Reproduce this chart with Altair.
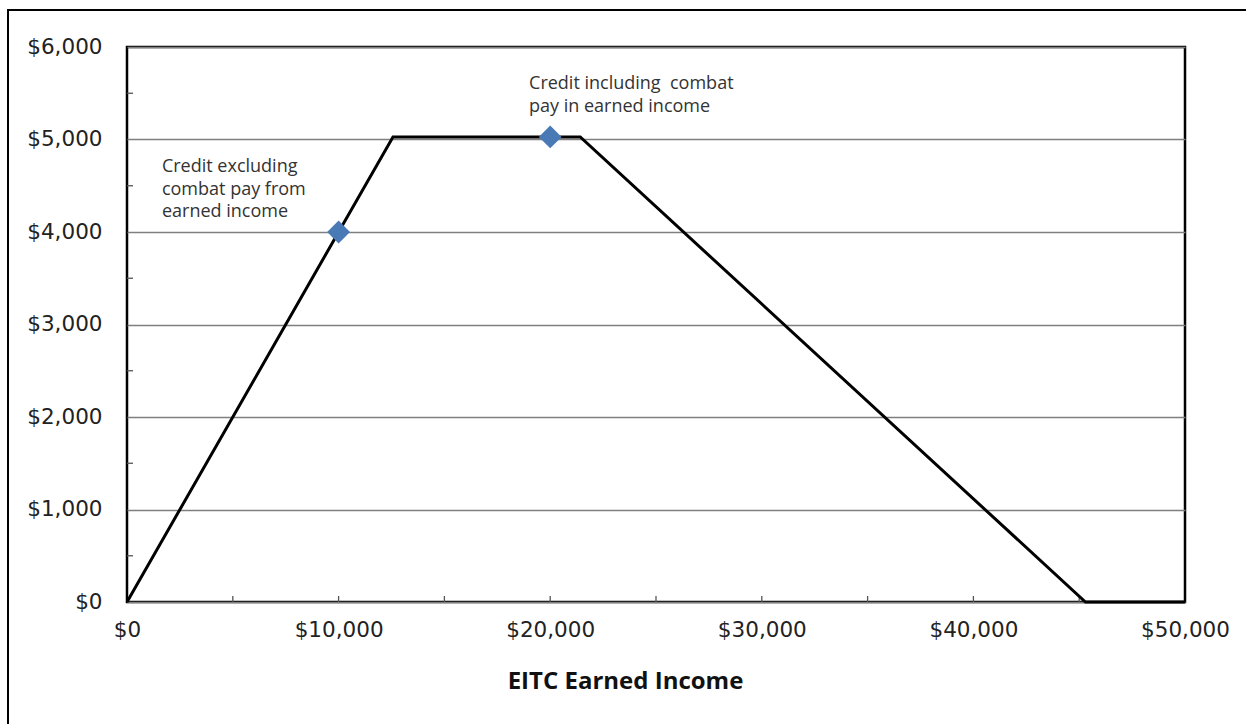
import altair as alt
import pandas as pd

# EITC schedule (earned income, credit)
income = [0, 12570, 21420, 45295, 50000]
credit = [0, 5028, 5028, 0, 0]

# highlighted points
pt_income = [10000, 20000]
pt_credit = [4000, 5028]

# annotations
ann_x = [1650, 19000]
ann_y = [4700, 5600]
ann_text = [["Credit excluding", "combat pay from", "earned income"],
            ["Credit including\u00a0 combat", "pay in earned income"]]

y_ticks = [0, 1000, 2000, 3000, 4000, 5000, 6000]
x_ticks = [0, 10000, 20000, 30000, 40000, 50000]
y_minor = [500, 1500, 2500, 3500, 4500, 5500]
x_minor = [5000, 10000, 15000, 20000, 25000, 30000, 35000, 40000, 45000]

W, H = 1058, 555

line_df = pd.DataFrame({"income": income, "credit": credit})
pt_df = pd.DataFrame({"income": pt_income, "credit": pt_credit})
ann_df = pd.DataFrame({"income": ann_x, "credit": ann_y, "text": ann_text})
ymin_df = pd.DataFrame({"credit": y_minor})
xmin_df = pd.DataFrame({"income": x_minor})

xscale = alt.Scale(domain=[0, 50000], nice=False)
yscale = alt.Scale(domain=[0, 6000], nice=False)

xaxis = alt.Axis(values=x_ticks, format="$,.0f", title="EITC Earned Income",
                 grid=False, ticks=False, domain=False, labelFont="DejaVu Sans",
                 labelFontSize=21.5, labelColor="#222", labelPadding=17,
                 titleFont="Open Sans", titleFontSize=24, titleFontWeight="bold",
                 titleColor="#111", titlePadding=29, titleX=498, labelFlush=False)
yaxis = alt.Axis(values=y_ticks, format="$,.0f", title=None, grid=True,
                 gridColor="#7f7f7f", gridWidth=1.3, ticks=False, domain=False,
                 labelFont="DejaVu Sans", labelFontSize=21.5, labelColor="#222",
                 labelPadding=25)

base = alt.Chart(line_df)

line = base.mark_line(color="black", strokeWidth=3).encode(
    x=alt.X("income:Q", scale=xscale, axis=xaxis),
    y=alt.Y("credit:Q", scale=yscale, axis=yaxis),
)

points = alt.Chart(pt_df).mark_point(shape="diamond", filled=True, size=520,
                                      color="#4a7ab5", opacity=1).encode(
    x=alt.X("income:Q", scale=xscale),
    y=alt.Y("credit:Q", scale=yscale),
)

ann = alt.Chart(ann_df).mark_text(align="left", baseline="middle", font="Open Sans",
                                  fontSize=18, color="#333", lineHeight=22.5).encode(
    x=alt.X("income:Q", scale=xscale),
    y=alt.Y("credit:Q", scale=yscale),
    text="text",
)

yminor = alt.Chart(ymin_df).mark_rule(color="#555", strokeWidth=1.3).encode(
    y=alt.Y("credit:Q", scale=yscale),
    x=alt.value(0), x2=alt.value(6),
)

xminor = alt.Chart(xmin_df).mark_rule(color="#555", strokeWidth=1.3).encode(
    x=alt.X("income:Q", scale=xscale),
    y=alt.value(H), y2=alt.value(H - 6),
)

border = alt.Chart(pd.DataFrame({"d": [0]})).mark_rect(
    fill=None, stroke="black", strokeWidth=2).encode(
    x=alt.value(-119), x2=alt.value(1135), y=alt.value(-37), y2=alt.value(700),
)

chart = alt.layer(border, yminor, xminor, line, points, ann).properties(
    width=W, height=H,
    autosize=alt.AutoSizeParams(type="none"),
    padding={"left": 127, "top": 47, "right": 61, "bottom": 122},
    background="white",
).configure_view(stroke="black", strokeWidth=2.5)

chart.save("out.html", embed_options={"renderer": "svg", "actions": False})
